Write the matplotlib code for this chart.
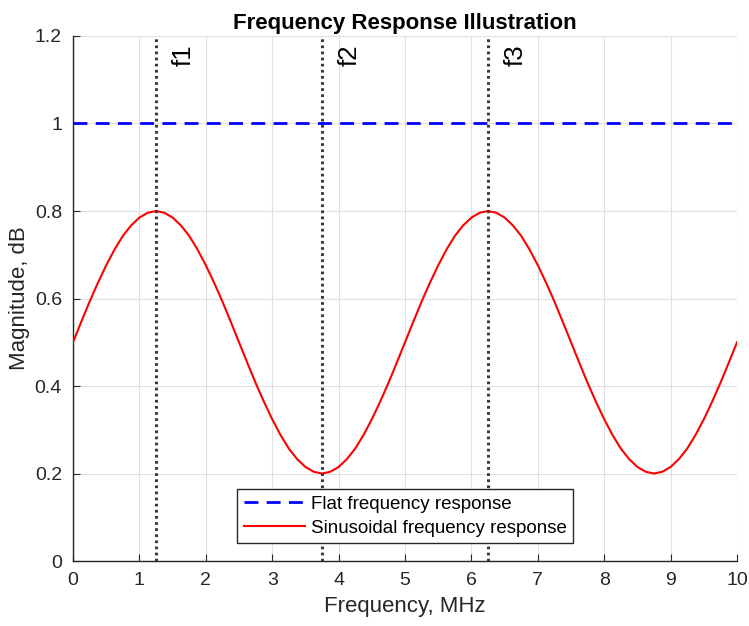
import numpy as np
import matplotlib
matplotlib.use("Agg")
import matplotlib.pyplot as plt

plt.rcParams["font.family"] = ["Liberation Sans", "DejaVu Sans"]

# values, one every 0.125 MHz
freq = np.linspace(0, 10, 81)
flat = [1.0] * 81
sinus = [0.5, 0.547, 0.593, 0.636, 0.676, 0.712, 0.743, 0.767, 0.785, 0.796,
         0.8, 0.796, 0.785, 0.767, 0.743, 0.712, 0.676, 0.636, 0.593, 0.547,
         0.5, 0.453, 0.407, 0.364, 0.324, 0.288, 0.257, 0.233, 0.215, 0.204,
         0.2, 0.204, 0.215, 0.233, 0.257, 0.288, 0.324, 0.364, 0.407, 0.453,
         0.5, 0.547, 0.593, 0.636, 0.676, 0.712, 0.743, 0.767, 0.785, 0.796,
         0.8, 0.796, 0.785, 0.767, 0.743, 0.712, 0.676, 0.636, 0.593, 0.547,
         0.5, 0.453, 0.407, 0.364, 0.324, 0.288, 0.257, 0.233, 0.215, 0.204,
         0.2, 0.204, 0.215, 0.233, 0.257, 0.288, 0.324, 0.364, 0.407, 0.453,
         0.5]
markers = [1.25, 3.75, 6.25]
markerLabels = ["f1", "f2", "f3"]
xticks = list(range(11))
yticks = [0, 0.2, 0.4, 0.6, 0.8, 1.0, 1.2]
yticklabels = ["0", "0.2", "0.4", "0.6", "0.8", "1", "1.2"]

fig = plt.figure(figsize=(7.49, 6.26), dpi=100)
ax = fig.add_axes([0.0975, 0.1038, 0.8865, 0.8387])

ax.plot(freq, flat, color="blue", linestyle=(0, (5, 3)), linewidth=2,
        label="Flat frequency response", zorder=3)
ax.plot(freq, sinus, color="red", linewidth=1.5,
        label="Sinusoidal frequency response", zorder=3)

for f, lab in zip(markers, markerLabels):
    ax.axvline(f, color="#3c3c3c", linestyle=(0, (0.9, 1.1)), linewidth=2.2, zorder=4)
    ax.text(f + 0.41, 1.181, lab, rotation=90, ha="center", va="top", fontsize=18.5,
            color="black")

ax.set_xlim(0, 10)
ax.set_ylim(0, 1.2)
ax.set_xticks(xticks)
ax.set_yticks(yticks)
ax.set_yticklabels(yticklabels)
ax.tick_params(direction="in", length=5, labelsize=14, colors="#262626",
               top=False, right=False, pad=8)
for s in ["top", "right"]:
    ax.spines[s].set_visible(False)
for s in ["left", "bottom"]:
    ax.spines[s].set_color("#262626")
    ax.spines[s].set_linewidth(1.0)
ax.grid(True, color="#e0e0e0", linewidth=0.8)
ax.set_axisbelow(True)

ax.set_xlabel("Frequency, MHz", fontsize=16, color="#262626", labelpad=5)
ax.set_ylabel("Magnitude, dB", fontsize=16, color="#262626", labelpad=3)
ax.set_title("Frequency Response Illustration", fontsize=16, fontweight="bold", pad=5)

leg = ax.legend(loc="lower center", bbox_to_anchor=(0.5, 0.034), borderaxespad=0,
                fontsize=13.5, fancybox=False, framealpha=1, handlelength=3.3,
                handletextpad=0.27, borderpad=0.35, labelspacing=0.35)
leg.get_frame().set_edgecolor("#262626")
leg.get_frame().set_linewidth(1.0)

fig.savefig("out.png", dpi=100)
